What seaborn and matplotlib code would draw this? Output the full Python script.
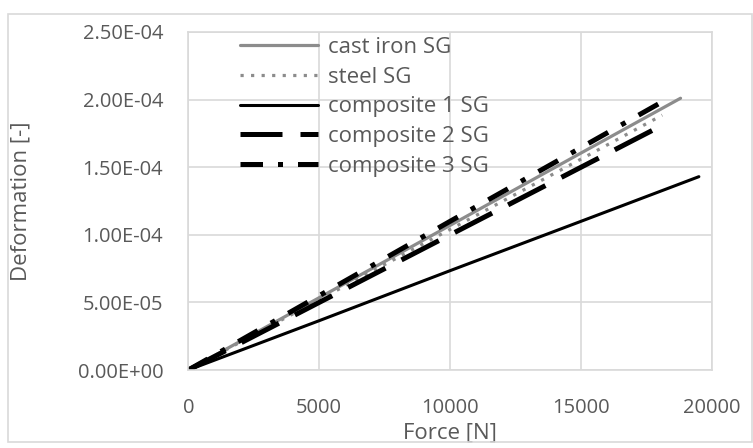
import pandas as pd
import matplotlib.pyplot as plt
import seaborn as sns
from matplotlib.patches import Rectangle

# Series (force in N, deformation in -)
force_cast_iron = [0, 5000, 10000, 15000, 18800]
def_cast_iron = [0, 5.35e-05, 1.07e-04, 1.605e-04, 2.01e-04]

force_steel = [0, 5000, 10000, 15000, 18100]
def_steel = [0, 5.2e-05, 1.04e-04, 1.56e-04, 1.885e-04]

force_comp1 = [0, 5000, 10000, 15000, 19500]
def_comp1 = [0, 3.65e-05, 7.35e-05, 1.10e-04, 1.43e-04]

force_comp2 = [0, 5000, 10000, 15000, 18300]
def_comp2 = [0, 5.0e-05, 1.0e-04, 1.50e-04, 1.83e-04]

force_comp3 = [0, 5000, 10000, 15000, 18250]
def_comp3 = [0, 5.5e-05, 1.10e-04, 1.645e-04, 2.0e-04]

labels = ["cast iron SG", "steel SG", "composite 1 SG", "composite 2 SG", "composite 3 SG"]

sns.set_style("white")
plt.rcParams["font.family"] = ["Open Sans", "DejaVu Sans"]

fig = plt.figure(figsize=(7.53, 4.48), dpi=100)
ax = fig.add_axes([0.25, 0.174, 0.6955, 0.7546])

# outer chart frame
fig.patches.append(Rectangle((8 / 753, 6 / 448), 744 / 753, 428 / 448,
                             transform=fig.transFigure, fill=False,
                             edgecolor="#d9d9d9", linewidth=1.2))

styles = [
    dict(color="#8c8c8c", linestyle="-", linewidth=2.3),
    dict(color="#8c8c8c", linestyle=(0, (1, 2.3)), linewidth=2.3),
    dict(color="black", linestyle="-", linewidth=2.2),
    dict(color="black", linestyle=(0, (8.4, 3.6)), linewidth=3.6),
    dict(color="black", linestyle=(0, (4.5, 3, 1, 3)), linewidth=3.6),
]
series = [
    (force_cast_iron, def_cast_iron),
    (force_steel, def_steel),
    (force_comp1, def_comp1),
    (force_comp2, def_comp2),
    (force_comp3, def_comp3),
]

for (x, y), lab, st in zip(series, labels, styles):
    df = pd.DataFrame({"Force": x, "Deformation": y})
    sns.lineplot(data=df, x="Force", y="Deformation", ax=ax, label=lab, **st)

ax.set_xlim(0, 20000)
ax.set_ylim(0, 2.5e-04)
ax.set_xticks([0, 5000, 10000, 15000, 20000])
ax.set_yticks([0, 5e-05, 1e-04, 1.5e-04, 2e-04, 2.5e-04])
ax.set_yticklabels(["0.00E+00", "5.00E-05", "1.00E-04", "1.50E-04", "2.00E-04", "2.50E-04"])
ax.grid(True, color="#d9d9d9", linewidth=1.2)
for s in ax.spines.values():
    s.set_color("#d9d9d9")
    s.set_linewidth(1.2)

ax.tick_params(axis="both", labelsize=14.5, labelcolor="#595959", length=0)
ax.tick_params(axis="x", pad=20)
ax.tick_params(axis="y", pad=18)
ax.set_xlabel("Force [N]", fontsize=16, color="#595959")
ax.set_ylabel("Deformation [-]", fontsize=16, color="#595959")
ax.xaxis.set_label_coords(0.5, -0.155)
ax.yaxis.set_label_coords(-0.30, 0.5)

leg = ax.legend(loc="upper left", bbox_to_anchor=(0.099, 0.985), frameon=False,
                fontsize=16, handlelength=3.5, labelspacing=0.39, handletextpad=0.45,
                borderaxespad=0, borderpad=0)
for t in leg.get_texts():
    t.set_color("#595959")

fig.savefig("out.png", dpi=100)
